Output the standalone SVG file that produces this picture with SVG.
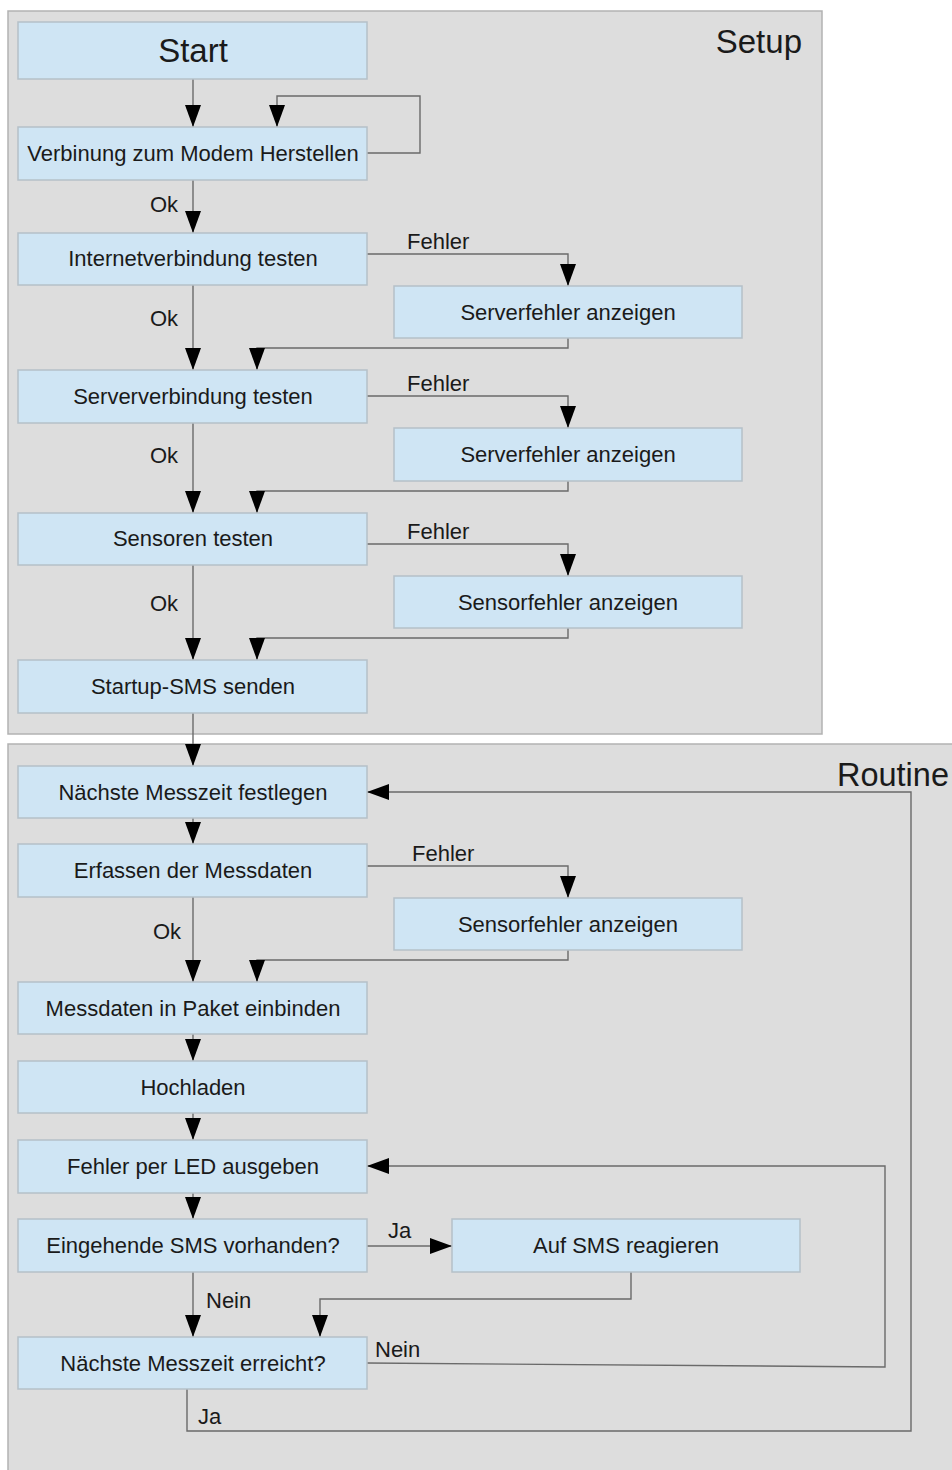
<svg xmlns="http://www.w3.org/2000/svg" width="952" height="1470" viewBox="0 0 952 1470">
<style>
.bg{fill:#ffffff}
.cont{fill:#dddddd;stroke:#b2b2b2;stroke-width:1.5}
.box{fill:#cfe5f4;stroke:#b5c0c8;stroke-width:1.5}
text{font-family:"Liberation Sans",Arial,sans-serif;fill:#1a1a1a}
.t{font-size:22px;text-anchor:middle}
.lbl{font-size:22px}
.big{font-size:33px}
.c{fill:none;stroke:#6a6a6a;stroke-width:1.4}
</style>
<defs>
<marker id="ah" markerUnits="userSpaceOnUse" viewBox="0 0 22 16" refX="22" refY="8" markerWidth="22" markerHeight="16" orient="auto">
<path d="M0,0 L22,8 L0,16 Z" fill="#000"/>
</marker>
</defs>
<rect class="bg" x="0" y="0" width="952" height="1470"/>
<g id="setup">
<rect class="cont" x="8" y="11" width="814" height="723"/>
<text class="big" x="802" y="53" text-anchor="end">Setup</text>
</g>
<g id="routine">
<rect class="cont" x="8" y="744" width="980" height="760"/>
<text class="big" x="949" y="786" text-anchor="end" style="font-size:32.5px">Routine</text>
</g>
<g id="connectors">
<path class="c" d="M193,79 V127" marker-end="url(#ah)"/>
<path class="c" d="M367,153 H420 V96 H277 V127" marker-end="url(#ah)"/>
<path class="c" d="M193,180 V233" marker-end="url(#ah)"/>
<text class="lbl" x="178" y="212" text-anchor="end">Ok</text>
<path class="c" d="M193,285 V370" marker-end="url(#ah)"/>
<text class="lbl" x="178" y="326" text-anchor="end">Ok</text>
<path class="c" d="M367,254 H568 V286" marker-end="url(#ah)"/>
<text class="lbl" x="407" y="249">Fehler</text>
<path class="c" d="M568,338 V348 H257 V370" marker-end="url(#ah)"/>
<path class="c" d="M193,423 V513" marker-end="url(#ah)"/>
<text class="lbl" x="178" y="463" text-anchor="end">Ok</text>
<path class="c" d="M367,396 H568 V428" marker-end="url(#ah)"/>
<text class="lbl" x="407" y="391">Fehler</text>
<path class="c" d="M568,481 V491 H257 V513" marker-end="url(#ah)"/>
<path class="c" d="M193,565 V660" marker-end="url(#ah)"/>
<text class="lbl" x="178" y="611" text-anchor="end">Ok</text>
<path class="c" d="M367,544 H568 V576" marker-end="url(#ah)"/>
<text class="lbl" x="407" y="539">Fehler</text>
<path class="c" d="M568,628 V638 H257 V660" marker-end="url(#ah)"/>
<path class="c" d="M193,713 V766" marker-end="url(#ah)"/>
<path class="c" d="M193,818 V844" marker-end="url(#ah)"/>
<path class="c" d="M367,866 H568 V898" marker-end="url(#ah)"/>
<text class="lbl" x="412" y="861">Fehler</text>
<path class="c" d="M193,897 V982" marker-end="url(#ah)"/>
<text class="lbl" x="181" y="939" text-anchor="end">Ok</text>
<path class="c" d="M568,950 V960 H257 V982" marker-end="url(#ah)"/>
<path class="c" d="M193,1034 V1061" marker-end="url(#ah)"/>
<path class="c" d="M193,1113 V1140" marker-end="url(#ah)"/>
<path class="c" d="M193,1193 V1219" marker-end="url(#ah)"/>
<path class="c" d="M367,1246 H452" marker-end="url(#ah)"/>
<text class="lbl" x="388" y="1238">Ja</text>
<path class="c" d="M193,1272 V1337" marker-end="url(#ah)"/>
<text class="lbl" x="206" y="1308">Nein</text>
<path class="c" d="M631,1272 V1299 H320 V1337" marker-end="url(#ah)"/>
<path class="c" d="M367,1363 L885,1367 V1166 H367" marker-end="url(#ah)"/>
<text class="lbl" x="375" y="1357">Nein</text>
<path class="c" d="M187,1389 V1431 H911 V792 H367" marker-end="url(#ah)"/>
<text class="lbl" x="198" y="1424">Ja</text>
</g>
<g id="n-start"><rect class="box" x="18" y="22" width="349" height="57"/><text class="t big" x="193" y="62">Start</text></g>
<g id="n-modem"><rect class="box" x="18" y="127" width="349" height="53"/><text class="t" x="193" y="161">Verbinung zum Modem Herstellen</text></g>
<g id="n-internet"><rect class="box" x="18" y="233" width="349" height="52"/><text class="t" x="193" y="266">Internetverbindung testen</text></g>
<g id="n-serverfehler1"><rect class="box" x="394" y="286" width="348" height="52"/><text class="t" x="568" y="320">Serverfehler anzeigen</text></g>
<g id="n-server"><rect class="box" x="18" y="370" width="349" height="53"/><text class="t" x="193" y="404">Serververbindung testen</text></g>
<g id="n-serverfehler2"><rect class="box" x="394" y="428" width="348" height="53"/><text class="t" x="568" y="462">Serverfehler anzeigen</text></g>
<g id="n-sensoren"><rect class="box" x="18" y="513" width="349" height="52"/><text class="t" x="193" y="546">Sensoren testen</text></g>
<g id="n-sensorfehler1"><rect class="box" x="394" y="576" width="348" height="52"/><text class="t" x="568" y="610">Sensorfehler anzeigen</text></g>
<g id="n-startup"><rect class="box" x="18" y="660" width="349" height="53"/><text class="t" x="193" y="694">Startup-SMS senden</text></g>
<g id="n-festlegen"><rect class="box" x="18" y="766" width="349" height="52"/><text class="t" x="193" y="800">Nächste Messzeit festlegen</text></g>
<g id="n-erfassen"><rect class="box" x="18" y="844" width="349" height="53"/><text class="t" x="193" y="878">Erfassen der Messdaten</text></g>
<g id="n-sensorfehler2"><rect class="box" x="394" y="898" width="348" height="52"/><text class="t" x="568" y="932">Sensorfehler anzeigen</text></g>
<g id="n-paket"><rect class="box" x="18" y="982" width="349" height="52"/><text class="t" x="193" y="1016">Messdaten in Paket einbinden</text></g>
<g id="n-hochladen"><rect class="box" x="18" y="1061" width="349" height="52"/><text class="t" x="193" y="1095">Hochladen</text></g>
<g id="n-led"><rect class="box" x="18" y="1140" width="349" height="53"/><text class="t" x="193" y="1174">Fehler per LED ausgeben</text></g>
<g id="n-eingehend"><rect class="box" x="18" y="1219" width="349" height="53"/><text class="t" x="193" y="1253">Eingehende SMS vorhanden?</text></g>
<g id="n-reagieren"><rect class="box" x="452" y="1219" width="348" height="53"/><text class="t" x="626" y="1253">Auf SMS reagieren</text></g>
<g id="n-erreicht"><rect class="box" x="18" y="1337" width="349" height="52"/><text class="t" x="193" y="1371">Nächste Messzeit erreicht?</text></g>
</svg>
